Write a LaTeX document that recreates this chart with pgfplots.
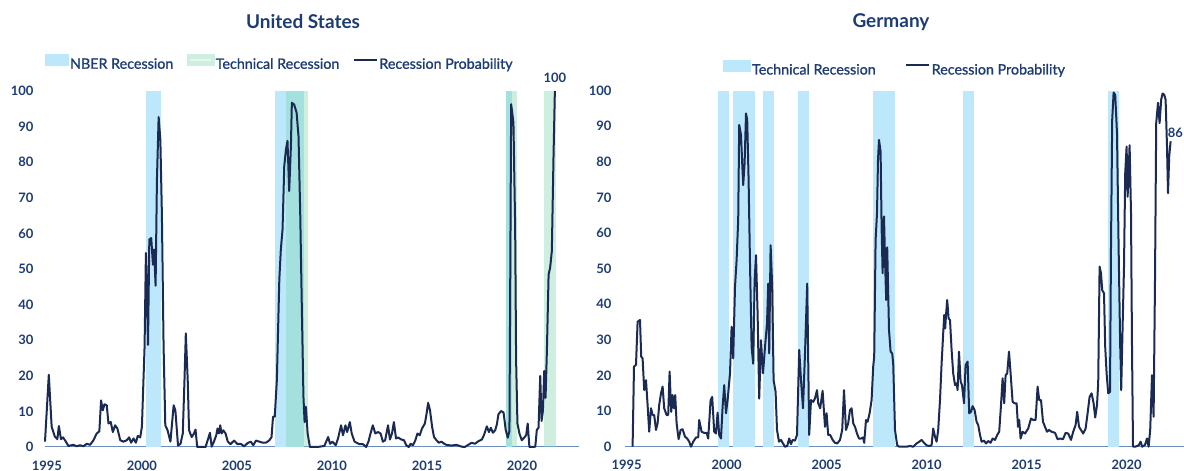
\documentclass[border=0pt]{standalone}
\usepackage{pgfplots}
\pgfplotsset{compat=1.18}
\usepackage{fontspec}
\setmainfont{Lato}
\newfontfamily\medfont{Lato}[FakeBold=1.2]
\definecolor{nber}{HTML}{BDE8FB}
\definecolor{tech}{HTML}{7DD3AE}
\definecolor{navy}{HTML}{1B2A52}
\definecolor{txt}{HTML}{1D3C74}
\definecolor{basec}{HTML}{6B8CC2}

\pgfplotsset{
 myaxis/.style={
  scale only axis, anchor=south west, clip=false,
  ymin=0, ymax=100, ytick={0,10,...,100},
  xtick={1995,2000,...,2020},
  axis lines=left,
  y axis line style={draw=none},
  x axis line style={draw=basec, line width=1pt, -},
  major tick length=0pt,
  tick label style={font=\fontsize{13}{15}\selectfont\bfseries, text=txt},
  /pgf/number format/assume math mode=true,
  x tick label style={/pgf/number format/1000 sep={}, yshift=-10pt},
  legend style={draw=none, fill=none, inner sep=0pt, font=\medfont\fontsize{14.3}{16}\selectfont, text=txt,
     nodes={inner sep=1.5pt}},
  legend cell align=left,
  legend columns=-1,
 },
 patch/.style={area legend, draw=none, forget plot},
 probline/.style={navy, line width=2pt, line join=round,
   legend image code/.code={\draw[navy, line width=2pt] (0pt,4.5pt) -- (23pt,4.5pt);}},
}

\begin{document}
\begin{tikzpicture}
\useasboundingbox (0,0) rectangle (1184pt,471pt);

\node[font=\fontsize{19}{22}\selectfont\bfseries, text=txt] at (303pt,449pt) {United States};
\node[font=\fontsize{19}{22}\selectfont\bfseries, text=txt] at (891pt,449pt) {Germany};

% ---------------- United States ----------------
\begin{axis}[myaxis, at={(45pt,24pt)}, width=534pt, height=356pt,
  xmin=1994.9, xmax=2023.0,
  yticklabel style={xshift=-8pt},
  legend style={at={(0,1)}, anchor=south west, yshift=19pt,
    /tikz/every even column/.append style={column sep=12pt}}]
\addplot[patch, fill=nber] coordinates {(2000.23,100) (2001.0,100)} \closedcycle;
\addplot[patch, fill=nber] coordinates {(2007.0,100) (2008.54,100)} \closedcycle;
\addplot[patch, fill=nber] coordinates {(2019.16,100) (2019.46,100)} \closedcycle;
\addplot[patch, fill=tech, fill opacity=0.38] coordinates {(2007.57,100) (2008.72,100)} \closedcycle;
\addplot[patch, fill=tech, fill opacity=0.38] coordinates {(2019.16,100) (2019.73,100)} \closedcycle;
\addplot[patch, fill=tech, fill opacity=0.38] coordinates {(2021.16,100) (2021.77,100)} \closedcycle;
\addlegendimage{area legend, legend image code/.code={\fill[nber] (0pt,-1pt) rectangle (23pt,10pt);}}
\addlegendentry{NBER Recession}
\addlegendimage{area legend, legend image code/.code={\fill[tech!38!white] (0pt,-1pt) rectangle (27pt,10pt);\draw[white, opacity=0.5, line width=1.5pt] (3pt,4.5pt) -- (24pt,4.5pt);}}
\addlegendentry{Technical Recession}
\addplot[probline] coordinates {
(1994.9,1.5) (1995.1,20.3) (1995.25,5.7) (1995.42,2.9) (1995.55,2.2) (1995.63,5.9) (1995.74,2.2) (1995.85,2.7)
(1996.0,1.5) (1996.13,0.3) (1996.39,0.6) (1996.57,0.2) (1996.74,0.5) (1996.92,0.2) (1997.1,0.9) (1997.27,0.6)
(1997.45,1.9) (1997.62,3.8) (1997.76,4.4) (1997.85,13.1) (1997.94,10.3) (1998.03,12) (1998.15,11.7) (1998.24,6.6)
(1998.36,7.0) (1998.47,4.2) (1998.59,6.1) (1998.71,5.2) (1998.86,1.9) (1999.03,1.5) (1999.2,1.9) (1999.33,2.7)
(1999.43,1.2) (1999.56,2.4) (1999.68,1.2) (1999.78,3.1) (1999.91,2.7) (2000.0,5.7) (2000.14,28.2) (2000.21,54.5)
(2000.26,45) (2000.32,28.7) (2000.39,58.3) (2000.49,58.7) (2000.58,51.2) (2000.64,55.5) (2000.72,45.3) (2000.79,75.1)
(2000.88,92.7) (2000.97,86.3) (2001.05,65.7) (2001.14,28.2) (2001.23,6.1) (2001.35,4.7) (2001.5,1.5) (2001.67,11.7)
(2001.76,10.3) (2001.9,0.4) (2002.03,0.9) (2002.15,3.8) (2002.24,18.8) (2002.31,31.9) (2002.41,18.8) (2002.48,4.7)
(2002.62,2.8) (2002.74,3.8) (2002.82,4.9) (2002.91,0) (2003.09,0) (2003.35,0) (2003.49,2.4) (2003.58,4.0)
(2003.67,0.1) (2003.79,1.5) (2003.91,3.3) (2003.98,5.2) (2004.05,3.8) (2004.12,6.1) (2004.19,3.8) (2004.28,4.7)
(2004.4,3.8) (2004.52,1.5) (2004.66,0.8) (2004.85,1.8) (2005.03,0.8) (2005.2,0.9) (2005.38,0.2) (2005.56,1.1)
(2005.73,1.5) (2005.86,0.5) (2006.0,1.8) (2006.18,1.5) (2006.36,1.2) (2006.53,1.2) (2006.71,1.9) (2006.82,2.8)
(2006.9,8.5) (2006.99,8.5) (2007.1,18.8) (2007.23,47) (2007.31,55.5) (2007.4,61.1) (2007.49,78.9) (2007.58,83.6)
(2007.66,86) (2007.75,71.9) (2007.84,84.5) (2007.89,96.7) (2008.01,96.2) (2008.14,93.9) (2008.24,87.3) (2008.33,65.7)
(2008.42,37.5) (2008.5,14.1) (2008.56,7.0) (2008.63,11.3) (2008.72,3.8) (2008.84,0) (2009.24,0) (2009.6,0.3)
(2009.8,2.8) (2009.9,0.9) (2010.02,1.5) (2010.2,0.5) (2010.32,2.4) (2010.48,6.1) (2010.58,3.3) (2010.71,6.1)
(2010.8,4.2) (2010.94,7.0) (2011.04,3.8) (2011.19,1.5) (2011.45,0.8) (2011.63,0.8) (2011.8,0) (2011.92,1.5)
(2012.03,3.8) (2012.15,6.1) (2012.28,3.8) (2012.42,4.2) (2012.56,3.8) (2012.68,1.5) (2012.8,1.9) (2012.95,6.1)
(2013.05,2.1) (2013.16,3.8) (2013.26,7.0) (2013.37,2.4) (2013.47,2.7) (2013.65,2.1) (2013.79,1.9) (2013.91,0.5)
(2014.04,0) (2014.14,0.9) (2014.26,0.5) (2014.39,1.9) (2014.5,3.8) (2014.62,3.3) (2014.74,5.2) (2014.89,6.6)
(2014.98,9.4) (2015.06,12.4) (2015.16,10.3) (2015.27,5.7) (2015.37,2.8) (2015.5,1.9) (2015.62,1.2) (2015.76,1.5)
(2015.94,0.8) (2016.02,0.6) (2016.29,0.4) (2016.55,0.6) (2016.82,0.1) (2016.99,0) (2017.17,0.6) (2017.35,1.2)
(2017.52,0.9) (2017.7,1.6) (2017.89,2.1) (2018.01,3.5) (2018.15,5.8) (2018.26,4.2) (2018.36,5.4) (2018.47,4.0)
(2018.59,4.7) (2018.68,6.4) (2018.76,9.2) (2018.9,10.1) (2019.03,9.7) (2019.14,4.9) (2019.25,2.6) (2019.34,4.5)
(2019.43,96.3) (2019.55,91.1) (2019.64,62) (2019.69,24.5) (2019.76,6.6) (2019.87,3.7) (2019.99,1.9) (2020.11,2.6)
(2020.22,3.3) (2020.3,6.6) (2020.39,0) (2020.57,0) (2020.7,0.1) (2020.78,4.8) (2020.87,5.4) (2020.96,20)
(2021.03,7.3) (2021.1,10.1) (2021.17,21.4) (2021.24,13.8) (2021.31,27) (2021.4,48.5) (2021.48,50.3) (2021.57,55)
(2021.66,82) (2021.73,100)
};
\addlegendentry{Recession Probability}
\node[anchor=south, inner sep=0pt, yshift=8pt, font=\fontsize{13}{15}\selectfont\bfseries, text=txt] at (axis cs:2021.73,100) {100};
\end{axis}

% ---------------- Germany ----------------
\begin{axis}[myaxis, at={(625pt,24.3pt)}, width=559pt, height=356pt,
  xmin=1994.92, xmax=2022.87,
  yticklabel style={xshift=-10pt},
  legend style={at={(0,1)}, anchor=south west, xshift=98pt, yshift=13pt,
    /tikz/every even column/.append style={column sep=28pt}}]
\addplot[patch, fill=nber] coordinates {(1999.55,100) (2000.13,100)} \closedcycle;
\addplot[patch, fill=nber] coordinates {(2000.3,100) (2001.4,100)} \closedcycle;
\addplot[patch, fill=nber] coordinates {(2001.82,100) (2002.38,100)} \closedcycle;
\addplot[patch, fill=nber] coordinates {(2003.57,100) (2004.13,100)} \closedcycle;
\addplot[patch, fill=nber] coordinates {(2007.32,100) (2008.4,100)} \closedcycle;
\addplot[patch, fill=nber] coordinates {(2011.8,100) (2012.37,100)} \closedcycle;
\addplot[patch, fill=nber] coordinates {(2019.07,100) (2019.63,100)} \closedcycle;
\addlegendimage{area legend, legend image code/.code={\fill[nber] (0pt,-1pt) rectangle (27pt,10pt);}}
\addlegendentry{Technical Recession}
\addplot[probline] coordinates {
(1995.3,0) (1995.37,22.5) (1995.47,23) (1995.55,35.1) (1995.67,35.6) (1995.73,25.3) (1995.8,24.8) (1995.88,15.9)
(1995.97,18.7) (1996.05,11.7) (1996.13,4.2) (1996.22,10.8) (1996.3,8.9) (1996.38,8.9) (1996.47,4.7) (1996.55,6.6)
(1996.63,11.7) (1996.72,15) (1996.8,16.9) (1996.88,10.8) (1997.0,8.9) (1997.08,8.9) (1997.15,21.1) (1997.23,9.8)
(1997.3,14.5) (1997.37,10.8) (1997.43,14.5) (1997.5,6.6) (1997.6,2.1) (1997.7,4.7) (1997.8,4.9) (1997.92,2.8)
(1998.03,2.3) (1998.13,1.4) (1998.22,0) (1998.33,1.4) (1998.47,2.6) (1998.58,2.6) (1998.63,7.5) (1998.75,4.2)
(1998.87,3.9) (1999.0,3.9) (1999.08,2.3) (1999.2,13.1) (1999.28,14.0) (1999.38,4.2) (1999.47,3.7) (1999.55,9.6)
(1999.63,3.3) (1999.72,2.3) (1999.8,11.2) (1999.88,17.3) (1999.97,9.4) (2000.05,13.1) (2000.17,20.6) (2000.25,33.7)
(2000.33,24.8) (2000.42,44.9) (2000.5,52.4) (2000.58,63.7) (2000.63,90.4) (2000.72,87.6) (2000.78,79.6) (2000.83,73.5)
(2000.9,79.6) (2000.97,93.6) (2001.03,91.8) (2001.1,74.9) (2001.17,51.4) (2001.25,28) (2001.33,23.3) (2001.4,46.7)
(2001.47,53.8) (2001.55,37.4) (2001.63,13.5) (2001.72,29.9) (2001.82,20.6) (2001.92,28) (2002.02,34.6) (2002.08,45.8)
(2002.13,26.2) (2002.2,56.6) (2002.28,44.9) (2002.35,18.7) (2002.45,15.4) (2002.52,4.7) (2002.62,1.4) (2002.72,1.9)
(2002.82,0.9) (2002.92,0) (2003.03,0.2) (2003.13,2.3) (2003.22,0.7) (2003.3,1.9) (2003.42,1.7) (2003.52,3.3)
(2003.63,27.2) (2003.72,18.7) (2003.82,10.8) (2003.92,26.2) (2004.03,45.8) (2004.13,3.3) (2004.22,13.1) (2004.33,12.6)
(2004.42,13.6) (2004.52,15.9) (2004.58,12.2) (2004.68,10.8) (2004.8,15.7) (2004.92,5.6) (2005.0,9.4) (2005.08,3.3)
(2005.18,3.3) (2005.3,1.9) (2005.42,1.1) (2005.53,0.9) (2005.67,1.9) (2005.78,4.7) (2005.87,15.9) (2005.97,4.7)
(2006.08,6.6) (2006.17,10.3) (2006.25,10.8) (2006.33,6.6) (2006.42,5.6) (2006.52,3.7) (2006.62,2.3) (2006.72,2.3)
(2006.82,2.6) (2006.88,1.1) (2006.97,7.5) (2007.05,7.0) (2007.15,9.4) (2007.25,13.1) (2007.33,22.5) (2007.38,25.3)
(2007.45,58.1) (2007.52,65.6) (2007.57,80.6) (2007.62,86.2) (2007.7,82.9) (2007.75,61.8) (2007.8,48.7) (2007.87,64.7)
(2007.93,50.6) (2007.98,41.2) (2008.03,56) (2008.12,32.8) (2008.2,26.7) (2008.28,26.2) (2008.33,23.4) (2008.42,4.7)
(2008.53,0.4) (2008.63,0) (2009.0,0) (2009.17,0.2) (2009.33,0) (2009.5,0.9) (2009.63,1.4) (2009.75,1.9)
(2009.87,1.1) (2010.0,0.4) (2010.13,0.2) (2010.25,0.4) (2010.33,5.1) (2010.42,2.8) (2010.5,1.4) (2010.58,4.7)
(2010.67,13.1) (2010.75,23.4) (2010.83,31.8) (2010.88,37) (2010.93,33.2) (2010.97,37) (2011.03,41.2) (2011.1,36)
(2011.17,35.6) (2011.25,27.2) (2011.33,20.6) (2011.42,17.3) (2011.5,17.8) (2011.55,15.9) (2011.62,26.7) (2011.7,18.3)
(2011.77,17.3) (2011.87,12.2) (2011.95,22.9) (2012.05,23.9) (2012.13,9.4) (2012.22,9.8) (2012.3,11.4) (2012.4,10.3)
(2012.5,7.0) (2012.58,6.1) (2012.67,3.3) (2012.75,1.4) (2012.87,1.7) (2012.97,0.9) (2013.08,1.6) (2013.2,1.1)
(2013.3,2.3) (2013.42,1.9) (2013.53,3.3) (2013.63,4.2) (2013.72,11.7) (2013.8,19.2) (2013.88,12.2) (2013.95,20.1)
(2014.03,20.6) (2014.12,26.7) (2014.2,20.6) (2014.3,12.6) (2014.4,12.2) (2014.5,12.2) (2014.57,5.6) (2014.63,7.5)
(2014.7,2.3) (2014.8,4.2) (2014.92,3.7) (2015.08,5.1) (2015.22,7.9) (2015.33,7.5) (2015.45,7.5) (2015.55,16.9)
(2015.63,13.1) (2015.72,13.1) (2015.82,7.0) (2015.92,5.6) (2016.02,4.2) (2016.12,4.7) (2016.25,4.2) (2016.42,3.9)
(2016.55,2.1) (2016.68,2.3) (2016.82,2.1) (2016.95,3.9) (2017.08,3.7) (2017.22,1.9) (2017.33,4.2) (2017.45,6.1)
(2017.53,9.8) (2017.62,5.6) (2017.72,4.7) (2017.83,3.7) (2017.95,5.1) (2018.05,9.4) (2018.15,14) (2018.25,15)
(2018.35,12.2) (2018.43,8.2) (2018.52,11.7) (2018.58,17.8) (2018.65,50.6) (2018.72,48.7) (2018.78,44) (2018.87,43.1)
(2018.93,28.1) (2019.0,20.6) (2019.08,15) (2019.17,15.4) (2019.22,56.2) (2019.28,91.8) (2019.35,99.5) (2019.43,98.8)
(2019.52,88) (2019.6,56.2) (2019.68,28.1) (2019.73,15.9) (2019.8,33.7) (2019.87,50.6) (2019.93,76.8) (2020.0,84.3)
(2020.05,70.2) (2020.1,76.8) (2020.15,84.7) (2020.22,65.6) (2020.27,28.1) (2020.32,0) (2020.42,0) (2020.53,0.2)
(2020.62,0.5) (2020.7,1.4) (2020.78,0) (2020.92,0.5) (2021.02,2.3) (2021.1,0) (2021.18,4.7) (2021.27,20.1)
(2021.35,8.4) (2021.42,46.8) (2021.48,90.9) (2021.57,96.6) (2021.65,90.9) (2021.73,97.5) (2021.8,99.2) (2021.88,98.9)
(2021.95,97.5) (2022.02,84.3) (2022.07,71.2) (2022.13,81.5) (2022.2,85.8)
};
\addlegendentry{Recession Probability}
\node[anchor=south west, inner sep=0pt, xshift=-3pt, yshift=3pt, font=\fontsize{13}{15}\selectfont\bfseries, text=txt] at (axis cs:2022.2,85.8) {86};
\end{axis}
\end{tikzpicture}
\end{document}
